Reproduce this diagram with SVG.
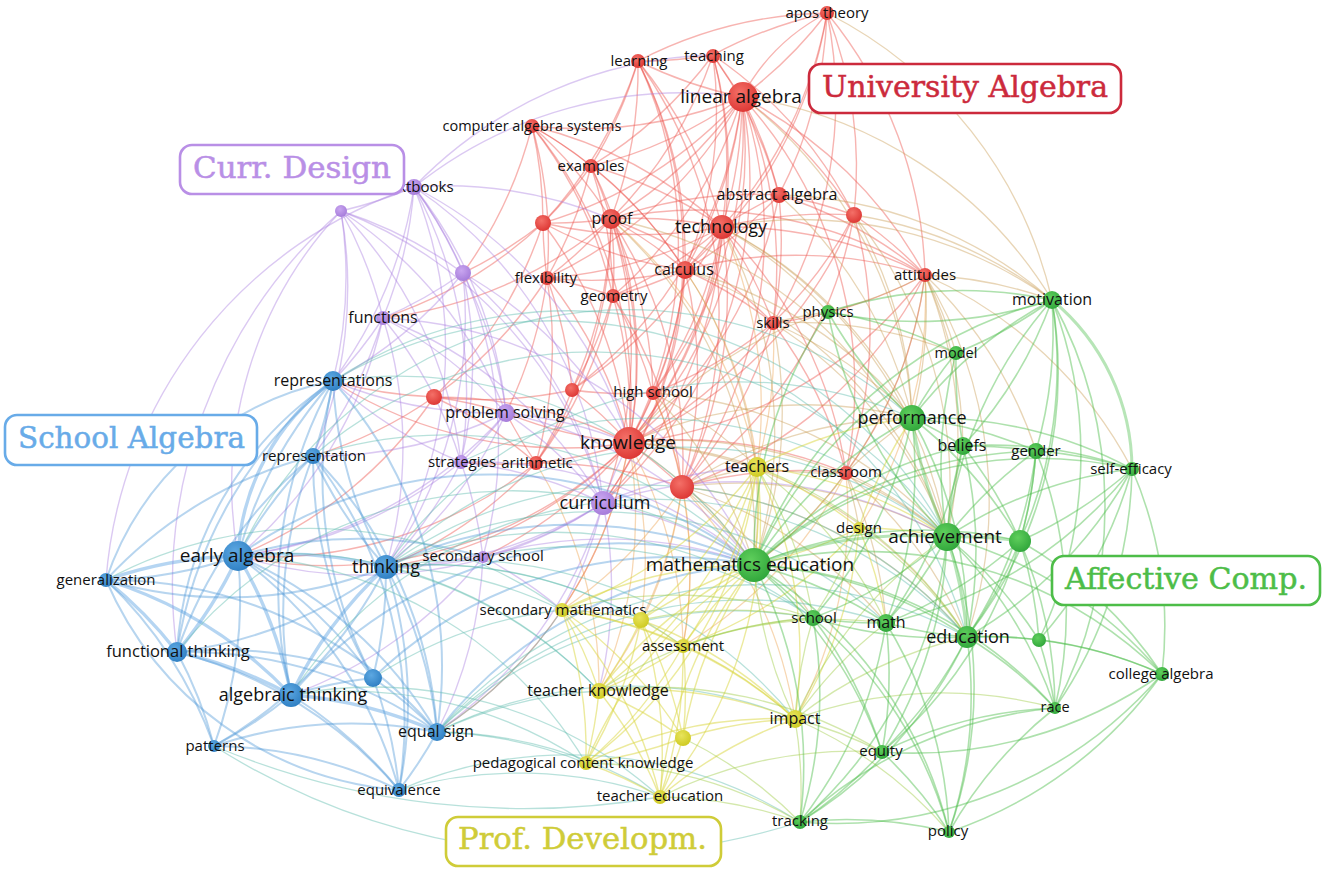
<svg xmlns="http://www.w3.org/2000/svg" width="1325" height="880" viewBox="0 0 1325 880">
<style>
#connectors path{fill:none;stroke-linecap:round}
.er path{stroke:#ec554e;stroke-opacity:.44;stroke-width:1.4}
.eo path{stroke:#c99a52;stroke-opacity:.42;stroke-width:1.3}
.ea path{stroke:#eca04a;stroke-opacity:.42;stroke-width:1.3}
.ep path{stroke:#a97ee0;stroke-opacity:.42;stroke-width:1.4}
.eb path{stroke:#4a96d8;stroke-opacity:.4;stroke-width:2}
.eb path.t{stroke:#5aa2e2;stroke-opacity:.45;stroke-width:3.4}
.ec path{stroke:#62bdb0;stroke-opacity:.45;stroke-width:1.3}
.ey path{stroke:#d9d63c;stroke-opacity:.5;stroke-width:1.4}
.eq path{stroke:#a6cf52;stroke-opacity:.48;stroke-width:1.3}
.eg path{stroke:#4cbd4a;stroke-opacity:.45;stroke-width:1.6}
.eg path.t{stroke-width:3;stroke-opacity:.4}
.nr{fill:url(#gr)}.np{fill:url(#gp)}.nb{fill:url(#gb)}.ny{fill:url(#gy)}.ng{fill:url(#gg)}
.lab{font-family:"Open Sans","DejaVu Sans",sans-serif;fill:#111;text-anchor:middle}
.box{fill:#fff;stroke-width:2.6}
.bt{font-family:"DejaVu Serif","Liberation Serif",serif;font-size:29px;stroke-width:.5}
</style>
<defs>
<radialGradient id="gr" cx="40%" cy="35%" r="70%"><stop offset="0" stop-color="#f47068"/><stop offset="1" stop-color="#dc3532"/></radialGradient>
<radialGradient id="gp" cx="40%" cy="35%" r="70%"><stop offset="0" stop-color="#c9a6f0"/><stop offset="1" stop-color="#a47ad9"/></radialGradient>
<radialGradient id="gb" cx="40%" cy="35%" r="70%"><stop offset="0" stop-color="#5da8e2"/><stop offset="1" stop-color="#2d7ec2"/></radialGradient>
<radialGradient id="gy" cx="40%" cy="35%" r="70%"><stop offset="0" stop-color="#e8e45c"/><stop offset="1" stop-color="#cdc920"/></radialGradient>
<radialGradient id="gg" cx="40%" cy="35%" r="70%"><stop offset="0" stop-color="#5fcf5c"/><stop offset="1" stop-color="#2fa53a"/></radialGradient>
</defs>
<rect width="1325" height="880" fill="#fff"/>
<g id="connectors">
<g class="er">
<path d="M742 97A430 430 0 0 1 713 55"/><path d="M742 97A430 430 0 0 1 638 61"/><path d="M827 13A430 430 0 0 1 742 97"/><path d="M827 13A200 200 0 0 0 742 97"/><path d="M742 97A430 430 0 0 1 722 227"/><path d="M742 97A430 430 0 0 1 611 219"/><path d="M742 97A430 430 0 0 1 779 195"/><path d="M742 97A430 430 0 0 1 685 270"/><path d="M742 97A430 430 0 0 1 591 166"/><path d="M742 97A430 430 0 0 1 532 126"/><path d="M742 97A430 430 0 0 1 629 443"/><path d="M742 97A430 430 0 0 1 854 215"/><path d="M742 97A430 430 0 0 1 925 275"/><path d="M742 97A430 430 0 0 1 773 323"/><path d="M742 97A430 430 0 0 1 653 393"/><path d="M742 97A430 430 0 0 1 682 487"/><path d="M742 97A430 430 0 0 1 547 278"/><path d="M742 97A430 430 0 0 1 613 296"/><path d="M742 97A430 430 0 0 1 543 223"/><path d="M742 97A430 430 0 0 1 846 473"/><path d="M742 97A430 430 0 0 1 603 503"/><path d="M742 97A430 430 0 0 1 572 390"/>
<path d="M713 55A430 430 0 0 1 638 61"/><path d="M713 55A430 430 0 0 1 827 13"/><path d="M713 55A430 430 0 0 1 722 227"/><path d="M713 55A430 430 0 0 1 611 219"/><path d="M713 55A430 430 0 0 1 629 443"/><path d="M713 55A430 430 0 0 1 685 270"/><path d="M713 55A430 430 0 0 1 854 215"/><path d="M713 55A430 430 0 0 1 591 166"/><path d="M713 55A430 430 0 0 1 779 195"/>
<path d="M638 61A430 430 0 0 1 611 219"/><path d="M638 61A430 430 0 0 1 629 443"/><path d="M638 61A430 430 0 0 1 722 227"/><path d="M638 61A430 430 0 0 1 591 166"/><path d="M638 61A430 430 0 0 1 685 270"/><path d="M638 61A430 430 0 0 1 682 487"/><path d="M638 61A430 430 0 0 1 827 13"/><path d="M638 61A430 430 0 0 1 543 223"/><path d="M638 61A430 430 0 0 1 603 503"/>
<path d="M827 13A430 430 0 0 1 779 195"/><path d="M827 13A430 430 0 0 1 854 215"/><path d="M827 13A430 430 0 0 1 722 227"/><path d="M827 13A430 430 0 0 1 925 275"/><path d="M827 13A430 430 0 0 1 773 323"/><path d="M827 13A430 430 0 0 1 685 270"/>
<path d="M532 126A430 430 0 0 1 722 227"/><path d="M532 126A430 430 0 0 1 685 270"/><path d="M532 126A430 430 0 0 1 591 166"/><path d="M532 126A430 430 0 0 1 543 223"/><path d="M532 126A430 430 0 0 1 613 296"/><path d="M532 126A430 430 0 0 1 629 443"/><path d="M532 126A430 430 0 0 1 611 219"/><path d="M532 126A430 430 0 0 1 547 278"/>
<path d="M591 166A430 430 0 0 1 611 219"/><path d="M591 166A430 430 0 0 1 722 227"/><path d="M591 166A430 430 0 0 1 543 223"/><path d="M591 166A430 430 0 0 1 685 270"/><path d="M591 166A430 430 0 0 1 629 443"/><path d="M591 166A430 430 0 0 1 547 278"/><path d="M591 166A430 430 0 0 1 613 296"/>
<path d="M611 219A430 430 0 0 1 722 227"/><path d="M611 219A430 430 0 0 1 543 223"/><path d="M611 219A430 430 0 0 1 685 270"/><path d="M611 219A430 430 0 0 1 613 296"/><path d="M611 219A430 430 0 0 1 547 278"/><path d="M611 219A430 430 0 0 1 629 443"/><path d="M611 219A430 430 0 0 1 653 393"/><path d="M611 219A430 430 0 0 1 682 487"/><path d="M611 219A430 430 0 0 1 773 323"/><path d="M611 219A430 430 0 0 1 779 195"/><path d="M611 219A430 430 0 0 1 925 275"/><path d="M611 219A430 430 0 0 1 572 390"/><path d="M611 219A430 430 0 0 1 536 463"/><path d="M611 219A430 430 0 0 1 603 503"/>
<path d="M722 227A430 430 0 0 1 685 270"/><path d="M722 227A430 430 0 0 1 779 195"/><path d="M722 227A430 430 0 0 1 629 443"/><path d="M722 227A430 430 0 0 1 682 487"/><path d="M722 227A430 430 0 0 1 925 275"/><path d="M722 227A430 430 0 0 1 773 323"/><path d="M722 227A430 430 0 0 1 653 393"/><path d="M722 227A430 430 0 0 1 854 215"/><path d="M722 227A430 430 0 0 1 846 473"/><path d="M722 227A430 430 0 0 1 543 223"/><path d="M722 227A430 430 0 0 1 547 278"/><path d="M722 227A430 430 0 0 1 613 296"/><path d="M722 227A430 430 0 0 1 603 503"/><path d="M722 227A430 430 0 0 1 572 390"/>
<path d="M779 195A430 430 0 0 1 854 215"/><path d="M779 195A430 430 0 0 1 685 270"/><path d="M779 195A430 430 0 0 1 925 275"/><path d="M779 195A430 430 0 0 1 629 443"/><path d="M779 195A430 430 0 0 1 773 323"/>
<path d="M854 215A430 430 0 0 1 925 275"/><path d="M854 215A430 430 0 0 1 773 323"/><path d="M854 215A430 430 0 0 1 629 443"/><path d="M854 215A430 430 0 0 1 682 487"/><path d="M854 215A430 430 0 0 1 846 473"/>
<path d="M685 270A430 430 0 0 1 629 443"/><path d="M685 270A430 430 0 0 1 613 296"/><path d="M685 270A430 430 0 0 1 773 323"/><path d="M685 270A430 430 0 0 1 682 487"/><path d="M685 270A430 430 0 0 1 925 275"/><path d="M685 270A430 430 0 0 1 653 393"/><path d="M685 270A430 430 0 0 1 543 223"/><path d="M685 270A430 430 0 0 1 547 278"/><path d="M685 270A430 430 0 0 1 603 503"/>
<path d="M547 278A430 430 0 0 1 629 443"/><path d="M547 278A430 430 0 0 1 543 223"/><path d="M547 278A430 430 0 0 1 613 296"/><path d="M547 278A430 430 0 0 1 536 463"/><path d="M547 278A430 430 0 0 1 572 390"/><path d="M547 278A430 430 0 0 1 434 397"/>
<path d="M613 296A430 430 0 0 1 629 443"/><path d="M613 296A430 430 0 0 1 653 393"/><path d="M613 296A430 430 0 0 1 682 487"/><path d="M613 296A430 430 0 0 1 536 463"/><path d="M613 296A430 430 0 0 1 572 390"/>
<path d="M925 275A430 430 0 0 1 629 443"/><path d="M925 275A430 430 0 0 1 846 473"/><path d="M925 275A430 430 0 0 1 773 323"/><path d="M925 275A430 430 0 0 1 682 487"/>
<path d="M773 323A430 430 0 0 1 629 443"/><path d="M773 323A430 430 0 0 1 653 393"/><path d="M773 323A430 430 0 0 1 682 487"/><path d="M773 323A430 430 0 0 1 846 473"/>
<path d="M653 393A430 430 0 0 1 629 443"/><path d="M653 393A430 430 0 0 1 572 390"/><path d="M653 393A430 430 0 0 1 682 487"/>
<path d="M572 390A430 430 0 0 1 629 443"/><path d="M572 390A430 430 0 0 1 434 397"/><path d="M572 390A430 430 0 0 1 536 463"/>
<path d="M434 397A430 430 0 0 1 629 443"/><path d="M434 397A430 430 0 0 1 536 463"/>
<path d="M629 443A430 430 0 0 1 536 463"/><path d="M629 443A430 430 0 0 1 682 487"/><path d="M629 443A430 430 0 0 1 846 473"/><path d="M536 463A430 430 0 0 1 682 487"/><path d="M682 487A430 430 0 0 1 846 473"/>
<path d="M543 223A430 430 0 0 1 629 443"/><path d="M543 223A430 430 0 0 1 434 397"/>
<path d="M434 397A430 430 0 0 1 333 381"/><path d="M434 397A430 430 0 0 1 506 413"/><path d="M434 397A430 430 0 0 1 313 456"/><path d="M434 397A430 430 0 0 1 238 556"/>
<path d="M629 443A430 430 0 0 1 386 567"/><path d="M629 443A430 430 0 0 1 238 556"/><path d="M629 443A430 430 0 0 1 506 413"/><path d="M629 443A430 430 0 0 1 333 381"/><path d="M629 443A430 430 0 0 1 483 557"/><path d="M629 443A430 430 0 0 1 437 732"/>
<path d="M536 463A430 430 0 0 1 461 462"/><path d="M536 463A430 430 0 0 1 238 556"/><path d="M536 463A430 430 0 0 1 386 567"/><path d="M536 463A430 430 0 0 1 506 413"/>
<path d="M611 219A430 430 0 0 1 383 318"/><path d="M543 223A430 430 0 0 1 463 273"/><path d="M543 223A430 430 0 0 1 383 318"/><path d="M547 278A430 430 0 0 1 506 413"/><path d="M532 126A430 430 0 0 1 463 273"/>
</g>
<g class="ea">
<path d="M629 443A430 430 0 0 1 562 610"/><path d="M629 443A430 430 0 0 1 599 691"/><path d="M629 443A430 430 0 0 1 683 646"/><path d="M629 443A430 430 0 0 1 641 620"/><path d="M682 487A430 430 0 0 1 683 646"/><path d="M682 487A430 430 0 0 1 599 691"/><path d="M682 487A430 430 0 0 1 641 620"/><path d="M682 487A430 430 0 0 1 562 610"/><path d="M682 487A430 430 0 0 1 795 719"/><path d="M653 393A430 430 0 0 1 683 646"/><path d="M846 473A430 430 0 0 1 795 719"/><path d="M846 473A430 430 0 0 1 683 646"/><path d="M685 270A430 430 0 0 1 757 467"/><path d="M722 227A430 430 0 0 1 757 467"/><path d="M611 219A430 430 0 0 1 757 467"/><path d="M536 463A430 430 0 0 1 599 691"/><path d="M773 323A430 430 0 0 1 757 467"/><path d="M925 275A430 430 0 0 1 859 528"/>
</g>
<g class="eo">
<path d="M722 227A430 430 0 0 1 754 565"/><path d="M722 227A430 430 0 0 1 912 418"/><path d="M722 227A430 430 0 0 1 947 537"/><path d="M722 227A430 430 0 0 1 1052 300"/><path d="M722 227A430 430 0 0 1 828 312"/>
<path d="M925 275A430 430 0 0 1 754 565"/><path d="M925 275A430 430 0 0 1 912 418"/><path d="M925 275A430 430 0 0 1 947 537"/><path d="M925 275A430 430 0 0 1 1052 300"/><path d="M925 275A430 430 0 0 1 956 353"/><path d="M925 275A430 430 0 0 1 963 446"/><path d="M925 275A430 430 0 0 1 1132 469"/><path d="M925 275A430 430 0 0 1 967 637"/><path d="M925 275A430 430 0 0 1 828 312"/><path d="M925 275A430 430 0 0 1 1036 451"/>
<path d="M629 443A430 430 0 0 1 754 565"/><path d="M629 443A430 430 0 0 1 757 467"/><path d="M629 443A430 430 0 0 1 912 418"/><path d="M629 443A430 430 0 0 1 947 537"/><path d="M629 443A430 430 0 0 1 828 312"/><path d="M629 443A430 430 0 0 1 967 637"/>
<path d="M682 487A430 430 0 0 1 754 565"/><path d="M682 487A430 430 0 0 1 757 467"/><path d="M682 487A430 430 0 0 1 947 537"/><path d="M682 487A430 430 0 0 1 912 418"/><path d="M682 487A430 430 0 0 1 967 637"/><path d="M682 487A430 430 0 0 1 813 618"/><path d="M682 487A430 430 0 0 1 886 623"/>
<path d="M846 473A430 430 0 0 1 754 565"/><path d="M846 473A430 430 0 0 1 947 537"/><path d="M846 473A430 430 0 0 1 757 467"/><path d="M846 473A430 430 0 0 1 912 418"/><path d="M846 473A430 430 0 0 1 859 528"/><path d="M846 473A430 430 0 0 1 886 623"/><path d="M846 473A430 430 0 0 1 967 637"/>
<path d="M773 323A430 430 0 0 1 912 418"/><path d="M773 323A430 430 0 0 1 947 537"/><path d="M773 323A430 430 0 0 1 754 565"/><path d="M773 323A430 430 0 0 1 828 312"/><path d="M773 323A430 430 0 0 1 956 353"/>
<path d="M685 270A430 430 0 0 1 754 565"/><path d="M685 270A430 430 0 0 1 947 537"/><path d="M685 270A430 430 0 0 1 912 418"/>
<path d="M742 97A430 430 0 0 1 1052 300"/><path d="M742 97A430 430 0 0 1 912 418"/><path d="M827 13A430 430 0 0 1 1052 300"/>
<path d="M854 215A430 430 0 0 1 912 418"/><path d="M854 215A430 430 0 0 1 947 537"/><path d="M854 215A430 430 0 0 1 1052 300"/>
<path d="M653 393A430 430 0 0 1 754 565"/><path d="M653 393A430 430 0 0 1 947 537"/><path d="M653 393A430 430 0 0 1 757 467"/>
<path d="M779 195A430 430 0 0 1 1052 300"/><path d="M779 195A430 430 0 0 1 912 418"/><path d="M611 219A430 430 0 0 1 754 565"/><path d="M611 219A430 430 0 0 1 947 537"/>
</g>
<g class="ep">
<path d="M414 187A430 430 0 0 1 341 211"/><path d="M414 187A430 430 0 0 1 463 273"/><path d="M414 187A430 430 0 0 1 383 318"/><path d="M414 187A430 430 0 0 1 506 413"/><path d="M414 187A430 430 0 0 1 603 503"/><path d="M414 187A430 430 0 0 1 333 381"/><path d="M414 187A430 430 0 0 1 461 462"/><path d="M414 187A430 430 0 0 1 483 557"/><path d="M414 187A430 430 0 0 1 629 443"/><path d="M414 187A430 430 0 0 1 386 567"/><path d="M414 187A430 430 0 0 1 611 219"/><path d="M414 187A430 430 0 0 1 713 55"/><path d="M414 187A430 430 0 0 1 742 97"/>
<path d="M341 211A430 430 0 0 1 463 273"/><path d="M341 211A430 430 0 0 1 383 318"/><path d="M341 211A430 430 0 0 1 333 381"/><path d="M341 211A430 430 0 0 1 506 413"/><path d="M341 211A430 430 0 0 1 461 462"/><path d="M341 211A430 430 0 0 1 313 456"/><path d="M341 211A430 430 0 0 1 603 503"/>
<path d="M463 273A430 430 0 0 1 383 318"/><path d="M463 273A430 430 0 0 1 506 413"/><path d="M463 273A430 430 0 0 1 461 462"/><path d="M463 273A430 430 0 0 1 603 503"/><path d="M463 273A430 430 0 0 1 629 443"/><path d="M463 273A430 430 0 0 1 333 381"/><path d="M463 273A430 430 0 0 1 386 567"/>
<path d="M383 318A430 430 0 0 1 333 381"/><path d="M383 318A430 430 0 0 1 506 413"/><path d="M383 318A430 430 0 0 1 461 462"/><path d="M383 318A430 430 0 0 1 238 556"/><path d="M383 318A430 430 0 0 1 386 567"/><path d="M383 318A430 430 0 0 1 603 503"/><path d="M383 318A430 430 0 0 1 313 456"/><path d="M383 318A430 430 0 0 1 754 565"/>
<path d="M506 413A430 430 0 0 1 461 462"/><path d="M506 413A430 430 0 0 1 603 503"/><path d="M506 413A430 430 0 0 1 629 443"/><path d="M506 413A430 430 0 0 1 386 567"/><path d="M506 413A430 430 0 0 1 333 381"/><path d="M506 413A430 430 0 0 1 238 556"/><path d="M506 413A430 430 0 0 1 754 565"/><path d="M506 413A430 430 0 0 1 313 456"/>
<path d="M461 462A430 430 0 0 1 603 503"/><path d="M461 462A430 430 0 0 1 386 567"/><path d="M461 462A430 430 0 0 1 483 557"/><path d="M461 462A430 430 0 0 1 238 556"/><path d="M461 462A430 430 0 0 1 754 565"/><path d="M461 462A430 430 0 0 1 333 381"/>
<path d="M603 503A430 430 0 0 1 629 443"/><path d="M603 503A430 430 0 0 1 754 565"/><path d="M603 503A430 430 0 0 1 483 557"/><path d="M603 503A430 430 0 0 1 386 567"/><path d="M603 503A430 430 0 0 1 757 467"/><path d="M603 503A430 430 0 0 1 238 556"/><path d="M603 503A430 430 0 0 1 947 537"/><path d="M603 503A430 430 0 0 1 562 610"/><path d="M603 503A430 430 0 0 1 599 691"/><path d="M603 503A430 430 0 0 1 437 732"/>
<path d="M483 557A430 430 0 0 1 386 567"/><path d="M483 557A430 430 0 0 1 754 565"/><path d="M483 557A430 430 0 0 1 437 732"/><path d="M483 557A430 430 0 0 1 562 610"/><path d="M483 557A430 430 0 0 1 291 695"/>
<path d="M341 211A400 400 0 0 0 238 556"/><path d="M414 187A450 450 0 0 0 106 580"/><path d="M341 211A500 500 0 0 0 177 652"/>
</g>
<g class="eb">
<path class="t" d="M238 556A430 430 0 0 1 177 652"/><path class="t" d="M238 556A430 430 0 0 1 291 695"/><path class="t" d="M238 556A430 430 0 0 1 386 567"/><path class="t" d="M106 580A430 430 0 0 1 238 556"/><path class="t" d="M291 695A430 430 0 0 1 386 567"/><path class="t" d="M177 652A430 430 0 0 1 291 695"/><path class="t" d="M106 580A430 430 0 0 1 177 652"/><path class="t" d="M238 556A230 230 0 0 1 333 381"/><path class="t" d="M291 695A430 430 0 0 1 437 732"/><path class="t" d="M106 580A430 430 0 0 1 291 695"/>
<path d="M238 556A430 430 0 0 1 106 580"/><path d="M238 556A430 430 0 0 1 333 381"/><path d="M238 556A430 430 0 0 1 313 456"/><path d="M238 556A430 430 0 0 1 437 732"/><path d="M238 556A430 430 0 0 1 214 746"/><path d="M238 556A430 430 0 0 1 373 678"/><path d="M238 556A430 430 0 0 1 399 790"/><path d="M238 556A430 430 0 0 1 754 565"/><path d="M238 556A430 430 0 0 1 483 557"/>
<path d="M386 567A430 430 0 0 1 333 381"/><path d="M386 567A430 430 0 0 1 313 456"/><path d="M386 567A430 430 0 0 1 373 678"/><path d="M386 567A430 430 0 0 1 437 732"/><path d="M386 567A430 430 0 0 1 177 652"/><path d="M386 567A430 430 0 0 1 106 580"/><path d="M386 567A430 430 0 0 1 399 790"/><path d="M386 567A430 430 0 0 1 754 565"/><path d="M386 567A430 430 0 0 1 214 746"/>
<path d="M106 580A430 430 0 0 1 214 746"/><path d="M106 580A300 300 0 0 1 333 381"/><path d="M106 580A430 430 0 0 1 313 456"/><path d="M106 580A430 430 0 0 1 437 732"/><path d="M106 580A350 350 0 0 0 399 790"/>
<path d="M177 652A430 430 0 0 1 214 746"/><path d="M177 652A430 430 0 0 1 437 732"/><path d="M177 652A430 430 0 0 1 373 678"/><path d="M177 652A430 430 0 0 1 313 456"/><path d="M177 652A430 430 0 0 1 333 381"/><path d="M177 652A430 430 0 0 1 399 790"/><path d="M177 652A350 350 0 0 1 333 381"/>
<path d="M291 695A430 430 0 0 1 214 746"/><path d="M291 695A430 430 0 0 1 373 678"/><path d="M291 695A430 430 0 0 1 399 790"/><path d="M291 695A430 430 0 0 1 754 565"/><path d="M291 695A430 430 0 0 1 333 381"/><path d="M291 695A430 430 0 0 1 313 456"/>
<path d="M373 678A430 430 0 0 1 437 732"/><path d="M373 678A430 430 0 0 1 399 790"/><path d="M373 678A430 430 0 0 1 313 456"/><path d="M373 678A430 430 0 0 1 333 381"/><path d="M373 678A430 430 0 0 1 754 565"/>
<path d="M437 732A430 430 0 0 1 399 790"/><path d="M437 732A430 430 0 0 1 754 565"/>
<path d="M333 381A430 430 0 0 1 313 456"/><path d="M333 381A430 430 0 0 1 437 732"/><path d="M313 456A430 430 0 0 1 437 732"/><path d="M313 456A430 430 0 0 1 399 790"/>
<path d="M214 746A430 430 0 0 1 399 790"/><path d="M214 746A430 430 0 0 1 437 732"/>
</g>
<g class="ec">
<path d="M386 567A430 430 0 0 1 683 646"/><path d="M386 567A430 430 0 0 1 641 620"/><path d="M386 567A430 430 0 0 1 599 691"/><path d="M386 567A430 430 0 0 1 795 719"/><path d="M386 567A430 430 0 0 1 947 537"/><path d="M386 567A430 430 0 0 1 562 610"/><path d="M386 567A430 430 0 0 1 813 618"/><path d="M386 567A430 430 0 0 1 967 637"/><path d="M386 567A430 430 0 0 1 886 623"/><path d="M386 567A430 430 0 0 1 912 418"/>
<path d="M238 556A430 430 0 0 1 599 691"/><path d="M238 556A430 430 0 0 1 586 763"/><path d="M238 556A430 430 0 0 1 912 418"/><path d="M291 695A430 430 0 0 1 586 763"/><path d="M291 695A430 430 0 0 1 660 797"/><path d="M291 695A430 430 0 0 1 967 637"/>
<path d="M437 732A430 430 0 0 1 660 797"/><path d="M437 732A430 430 0 0 1 795 719"/><path d="M437 732A430 430 0 0 1 586 763"/><path d="M437 732A430 430 0 0 1 599 691"/><path d="M562 610A430 430 0 0 1 437 732"/><path d="M437 732A430 430 0 0 1 967 637"/><path d="M437 732A430 430 0 0 1 813 618"/><path d="M437 732A430 430 0 0 1 886 623"/>
<path d="M399 790A430 430 0 0 1 660 797"/><path d="M399 790A430 430 0 0 1 800 822"/><path d="M333 381A430 430 0 0 1 754 565"/><path d="M333 381A430 430 0 0 1 947 537"/><path d="M333 381A430 430 0 0 1 967 637"/><path d="M313 456A430 430 0 0 1 754 565"/><path d="M313 456A430 430 0 0 1 947 537"/><path d="M373 678A430 430 0 0 1 562 610"/><path d="M177 652A430 430 0 0 1 754 565"/><path d="M106 580A430 430 0 0 1 562 610"/>
<path d="M483 557A430 430 0 0 1 813 618"/><path d="M461 462A430 430 0 0 1 947 537"/>
<path d="M214 746A700 700 0 0 0 800 822"/><path d="M214 746A800 800 0 0 0 660 797"/>
</g>
<g class="ey">
<path d="M757 467A430 430 0 0 1 754 565"/><path d="M757 467A430 430 0 0 1 859 528"/><path d="M757 467A430 430 0 0 1 599 691"/><path d="M757 467A430 430 0 0 1 683 646"/><path d="M757 467A430 430 0 0 1 562 610"/><path d="M757 467A430 430 0 0 1 795 719"/><path d="M757 467A430 430 0 0 1 947 537"/><path d="M757 467A430 430 0 0 1 912 418"/><path d="M757 467A430 430 0 0 1 641 620"/><path d="M757 467A430 430 0 0 1 660 797"/><path d="M757 467A430 430 0 0 1 586 763"/>
<path d="M859 528A430 430 0 0 1 947 537"/><path d="M859 528A430 430 0 0 1 754 565"/><path d="M859 528A430 430 0 0 1 795 719"/><path d="M859 528A430 430 0 0 1 912 418"/><path d="M859 528A430 430 0 0 1 886 623"/><path d="M859 528A430 430 0 0 1 683 646"/>
<path d="M562 610A430 430 0 0 1 641 620"/><path d="M562 610A430 430 0 0 1 683 646"/><path d="M562 610A430 430 0 0 1 599 691"/><path d="M562 610A430 430 0 0 1 586 763"/><path d="M562 610A430 430 0 0 1 754 565"/><path d="M562 610A430 430 0 0 1 660 797"/><path d="M562 610A430 430 0 0 1 683 738"/><path d="M562 610A430 430 0 0 1 795 719"/>
<path d="M641 620A430 430 0 0 1 683 646"/><path d="M641 620A430 430 0 0 1 599 691"/><path d="M641 620A430 430 0 0 1 754 565"/><path d="M641 620A430 430 0 0 1 586 763"/><path d="M641 620A430 430 0 0 1 795 719"/><path d="M641 620A430 430 0 0 1 660 797"/><path d="M641 620A430 430 0 0 1 683 738"/>
<path d="M683 646A430 430 0 0 1 599 691"/><path d="M683 646A430 430 0 0 1 795 719"/><path d="M683 646A430 430 0 0 1 754 565"/><path d="M683 646A430 430 0 0 1 586 763"/><path d="M683 646A430 430 0 0 1 683 738"/><path d="M683 646A430 430 0 0 1 660 797"/>
<path d="M599 691A430 430 0 0 1 586 763"/><path d="M599 691A430 430 0 0 1 660 797"/><path d="M599 691A430 430 0 0 1 683 738"/><path d="M599 691A430 430 0 0 1 754 565"/><path d="M599 691A430 430 0 0 1 795 719"/>
<path d="M683 738A430 430 0 0 1 586 763"/><path d="M683 738A430 430 0 0 1 660 797"/><path d="M683 738A430 430 0 0 1 795 719"/><path d="M683 738A430 430 0 0 1 754 565"/>
<path d="M586 763A430 430 0 0 1 660 797"/><path d="M586 763A430 430 0 0 1 754 565"/><path d="M586 763A430 430 0 0 1 795 719"/>
<path d="M660 797A430 430 0 0 1 795 719"/><path d="M660 797A430 430 0 0 1 754 565"/>
</g>
<g class="eq">
<path d="M795 719A430 430 0 0 1 754 565"/><path d="M795 719A430 430 0 0 1 947 537"/><path d="M795 719A430 430 0 0 1 813 618"/><path d="M795 719A430 430 0 0 1 882 752"/><path d="M795 719A430 430 0 0 1 967 637"/><path d="M795 719A430 430 0 0 1 800 822"/><path d="M795 719A430 430 0 0 1 886 623"/><path d="M795 719A430 430 0 0 1 949 832"/><path d="M795 719A430 430 0 0 1 1055 708"/>
<path d="M757 467A430 430 0 0 1 967 637"/><path d="M757 467A430 430 0 0 1 886 623"/><path d="M757 467A430 430 0 0 1 813 618"/><path d="M859 528A430 430 0 0 1 967 637"/><path d="M859 528A430 430 0 0 1 813 618"/><path d="M683 646A430 430 0 0 1 813 618"/><path d="M683 646A430 430 0 0 1 886 623"/><path d="M599 691A430 430 0 0 1 813 618"/><path d="M599 691A430 430 0 0 1 882 752"/><path d="M562 610A430 430 0 0 1 813 618"/><path d="M641 620A430 430 0 0 1 813 618"/><path d="M660 797A430 430 0 0 1 800 822"/><path d="M586 763A430 430 0 0 1 800 822"/><path d="M660 797A430 430 0 0 1 882 752"/><path d="M683 738A430 430 0 0 1 800 822"/>
</g>
<g class="eg">
<path class="t" d="M754 565A430 430 0 0 1 947 537"/><path class="t" d="M947 537A430 430 0 0 1 912 418"/><path class="t" d="M947 537A430 430 0 0 1 967 637"/><path class="t" d="M947 537A430 430 0 0 1 1020 541"/><path class="t" d="M1052 300A220 220 0 0 1 1132 469"/>
<path d="M754 565A430 430 0 0 1 912 418"/><path d="M754 565A430 430 0 0 1 813 618"/><path d="M754 565A430 430 0 0 1 886 623"/><path d="M754 565A430 430 0 0 1 967 637"/><path d="M754 565A430 430 0 0 1 1052 300"/><path d="M754 565A430 430 0 0 1 963 446"/><path d="M754 565A430 430 0 0 1 828 312"/><path d="M754 565A430 430 0 0 1 882 752"/><path d="M754 565A430 430 0 0 1 800 822"/><path d="M754 565A430 430 0 0 1 1020 541"/><path d="M754 565A430 430 0 0 1 1132 469"/><path d="M754 565A430 430 0 0 1 956 353"/><path d="M754 565A430 430 0 0 1 949 832"/><path d="M754 565A430 430 0 0 1 1036 451"/><path d="M754 565A430 430 0 0 1 1055 708"/><path d="M754 565A430 430 0 0 1 1162 674"/>
<path d="M947 537A430 430 0 0 1 963 446"/><path d="M947 537A430 430 0 0 1 1036 451"/><path d="M947 537A430 430 0 0 1 886 623"/><path d="M947 537A430 430 0 0 1 1052 300"/><path d="M947 537A430 430 0 0 1 1132 469"/><path d="M947 537A430 430 0 0 1 956 353"/><path d="M947 537A430 430 0 0 1 1055 708"/><path d="M947 537A430 430 0 0 1 882 752"/><path d="M947 537A430 430 0 0 1 949 832"/><path d="M947 537A430 430 0 0 1 800 822"/><path d="M947 537A430 430 0 0 1 813 618"/><path d="M947 537A430 430 0 0 1 1162 674"/><path d="M947 537A430 430 0 0 1 1039 640"/><path d="M947 537A430 430 0 0 1 828 312"/>
<path d="M912 418A430 430 0 0 1 963 446"/><path d="M912 418A430 430 0 0 1 1052 300"/><path d="M912 418A430 430 0 0 1 956 353"/><path d="M912 418A430 430 0 0 1 1132 469"/><path d="M912 418A430 430 0 0 1 1036 451"/><path d="M912 418A430 430 0 0 1 828 312"/><path d="M912 418A430 430 0 0 1 967 637"/><path d="M912 418A430 430 0 0 1 886 623"/><path d="M912 418A430 430 0 0 1 1020 541"/><path d="M912 418A430 430 0 0 1 813 618"/>
<path d="M1052 300A430 430 0 0 1 963 446"/><path d="M1052 300A430 430 0 0 1 1036 451"/><path d="M1052 300A430 430 0 0 1 956 353"/><path d="M1052 300A430 430 0 0 1 967 637"/><path d="M1052 300A430 430 0 0 1 828 312"/><path d="M1052 300A430 430 0 0 1 1020 541"/><path d="M1052 300A430 430 0 0 1 1055 708"/><path d="M1052 300A430 430 0 0 1 1039 640"/>
<path d="M963 446A430 430 0 0 1 1036 451"/><path d="M963 446A430 430 0 0 1 1132 469"/><path d="M963 446A430 430 0 0 1 967 637"/><path d="M963 446A430 430 0 0 1 1020 541"/><path d="M963 446A430 430 0 0 1 956 353"/><path d="M963 446A430 430 0 0 1 886 623"/>
<path d="M1036 451A430 430 0 0 1 1132 469"/><path d="M1036 451A430 430 0 0 1 1055 708"/><path d="M1036 451A430 430 0 0 1 967 637"/><path d="M1036 451A430 430 0 0 1 1020 541"/><path d="M1036 451A430 430 0 0 1 882 752"/>
<path d="M1132 469A430 430 0 0 1 1020 541"/><path d="M1132 469A430 430 0 0 1 967 637"/><path d="M1132 469A400 400 0 0 1 1162 674"/><path d="M1132 469A430 430 0 0 1 1055 708"/><path d="M1132 469A430 430 0 0 1 1039 640"/><path d="M1132 469A430 430 0 0 1 886 623"/>
<path d="M1020 541A430 430 0 0 1 967 637"/><path d="M1020 541A430 430 0 0 1 1055 708"/><path d="M1020 541A430 430 0 0 1 1162 674"/><path d="M1020 541A430 430 0 0 1 1039 640"/><path d="M1020 541A430 430 0 0 1 886 623"/>
<path d="M967 637A430 430 0 0 1 886 623"/><path d="M967 637A430 430 0 0 1 813 618"/><path d="M967 637A430 430 0 0 1 1055 708"/><path d="M967 637A430 430 0 0 1 882 752"/><path d="M967 637A430 430 0 0 1 949 832"/><path d="M967 637A430 430 0 0 1 800 822"/><path d="M967 637A430 430 0 0 1 1039 640"/><path d="M967 637A430 430 0 0 1 1162 674"/>
<path d="M886 623A430 430 0 0 1 813 618"/><path d="M886 623A430 430 0 0 1 882 752"/><path d="M886 623A430 430 0 0 1 800 822"/><path d="M886 623A430 430 0 0 1 949 832"/>
<path d="M813 618A430 430 0 0 1 800 822"/><path d="M813 618A430 430 0 0 1 882 752"/><path d="M813 618A430 430 0 0 1 949 832"/>
<path d="M1039 640A430 430 0 0 1 1055 708"/><path d="M1039 640A430 430 0 0 1 1162 674"/>
<path d="M882 752A430 430 0 0 1 800 822"/><path d="M882 752A430 430 0 0 1 949 832"/><path d="M882 752A430 430 0 0 1 1055 708"/><path d="M882 752A430 430 0 0 0 1162 674"/>
<path d="M800 822A430 430 0 0 1 949 832"/><path d="M800 822A430 430 0 0 1 1055 708"/><path d="M800 822A430 430 0 0 0 1162 674"/>
<path d="M949 832A430 430 0 0 0 1162 674"/><path d="M949 832A430 430 0 0 1 1055 708"/>
<path d="M828 312A430 430 0 0 1 956 353"/><path d="M828 312A430 430 0 0 1 1052 300"/>
</g>
</g>
<g id="nodes">
<g id="n-apos-theory"><circle class="nr" cx="827" cy="13" r="7"/><text class="lab" x="827" y="18" font-size="15">apos theory</text></g>
<g id="n-teaching"><circle class="nr" cx="713" cy="56" r="7"/><text class="lab" x="714" y="61" font-size="15">teaching</text></g>
<g id="n-learning"><circle class="nr" cx="638" cy="61" r="7"/><text class="lab" x="639" y="66" font-size="15">learning</text></g>
<g id="n-computer-algebra-systems"><circle class="nr" cx="532" cy="126" r="7"/><text class="lab" x="532" y="131" font-size="14.5">computer algebra systems</text></g>
<g id="n-examples"><circle class="nr" cx="591" cy="166" r="7"/><text class="lab" x="591" y="171" font-size="15">examples</text></g>
<g id="n-red-1"><circle class="nr" cx="854" cy="215" r="8"/></g>
<g id="n-red-2"><circle class="nr" cx="543" cy="223" r="8"/></g>
<g id="n-abstract-algebra"><circle class="nr" cx="779" cy="195" r="8"/><text class="lab" x="777" y="200" font-size="16">abstract algebra</text></g>
<g id="n-proof"><circle class="nr" cx="611" cy="219" r="10"/><text class="lab" x="612" y="224" font-size="16">proof</text></g>
<g id="n-technology"><circle class="nr" cx="722" cy="227" r="12"/><text class="lab" x="721" y="233" font-size="18">technology</text></g>
<g id="n-calculus"><circle class="nr" cx="685" cy="270" r="9"/><text class="lab" x="684" y="275" font-size="16">calculus</text></g>
<g id="n-flexibility"><circle class="nr" cx="547" cy="278" r="7"/><text class="lab" x="546" y="283" font-size="15">flexibility</text></g>
<g id="n-geometry"><circle class="nr" cx="613" cy="296" r="7"/><text class="lab" x="614" y="301" font-size="15">geometry</text></g>
<g id="n-attitudes"><circle class="nr" cx="925" cy="275" r="7"/><text class="lab" x="925" y="280" font-size="15">attitudes</text></g>
<g id="n-skills"><circle class="nr" cx="773" cy="323" r="7"/><text class="lab" x="773" y="328" font-size="15">skills</text></g>
<g id="n-red-3"><circle class="nr" cx="572" cy="390" r="7"/></g>
<g id="n-red-4"><circle class="nr" cx="434" cy="397" r="8"/></g>
<g id="n-high-school"><circle class="nr" cx="653" cy="393" r="7"/><text class="lab" x="653" y="397" font-size="15">high school</text></g>
<g id="n-arithmetic"><circle class="nr" cx="536" cy="463" r="7"/><text class="lab" x="537" y="468" font-size="15">arithmetic</text></g>
<g id="n-classroom"><circle class="nr" cx="846" cy="473" r="7"/><text class="lab" x="846" y="477" font-size="15">classroom</text></g>
<g id="n-red-5"><circle class="nr" cx="682" cy="487" r="12"/></g>
<g id="n-knowledge"><circle class="nr" cx="629" cy="443" r="16"/><text class="lab" x="628" y="449" font-size="19">knowledge</text></g>
<g id="n-linear-algebra"><circle class="nr" cx="743" cy="97" r="15"/><text class="lab" x="741" y="103" font-size="19">linear algebra</text></g>
<g id="n-purple-1"><circle class="np" cx="341" cy="211" r="6"/></g>
<g id="n-purple-2"><circle class="np" cx="463" cy="273" r="8"/></g>
<g id="n-textbooks"><circle class="np" cx="414" cy="187" r="8"/><text class="lab" x="419" y="192" font-size="15">textbooks</text></g>
<g id="n-functions"><circle class="np" cx="383" cy="318" r="7"/><text class="lab" x="383" y="323" font-size="16">functions</text></g>
<g id="n-problem-solving"><circle class="np" cx="506" cy="413" r="9"/><text class="lab" x="505" y="418" font-size="16">problem solving</text></g>
<g id="n-strategies"><circle class="np" cx="461" cy="462" r="7"/><text class="lab" x="462" y="467" font-size="15">strategies</text></g>
<g id="n-curriculum"><circle class="np" cx="603" cy="503" r="12"/><text class="lab" x="605" y="509" font-size="18">curriculum</text></g>
<g id="n-secondary-school"><circle class="np" cx="483" cy="557" r="6"/><text class="lab" x="483" y="561" font-size="15">secondary school</text></g>
<g id="n-representations"><circle class="nb" cx="333" cy="381" r="10"/><text class="lab" x="333" y="386" font-size="16">representations</text></g>
<g id="n-representation"><circle class="nb" cx="313" cy="456" r="8"/><text class="lab" x="314" y="461" font-size="15">representation</text></g>
<g id="n-generalization"><circle class="nb" cx="106" cy="580" r="7"/><text class="lab" x="106" y="585" font-size="15">generalization</text></g>
<g id="n-blue-1"><circle class="nb" cx="373" cy="678" r="9"/></g>
<g id="n-patterns"><circle class="nb" cx="214" cy="746" r="6"/><text class="lab" x="215" y="751" font-size="15">patterns</text></g>
<g id="n-equivalence"><circle class="nb" cx="399" cy="790" r="7"/><text class="lab" x="399" y="795" font-size="15">equivalence</text></g>
<g id="n-equal-sign"><circle class="nb" cx="437" cy="732" r="9"/><text class="lab" x="436" y="737" font-size="16">equal sign</text></g>
<g id="n-functional-thinking"><circle class="nb" cx="177" cy="652" r="10"/><text class="lab" x="178" y="657" font-size="16.5">functional thinking</text></g>
<g id="n-algebraic-thinking"><circle class="nb" cx="291" cy="695" r="12"/><text class="lab" x="293" y="701" font-size="18">algebraic thinking</text></g>
<g id="n-thinking"><circle class="nb" cx="386" cy="567" r="12"/><text class="lab" x="386" y="573" font-size="18">thinking</text></g>
<g id="n-early-algebra"><circle class="nb" cx="238" cy="556" r="15"/><text class="lab" x="237" y="562" font-size="19">early algebra</text></g>
<g id="n-teachers"><circle class="ny" cx="757" cy="467" r="10"/><text class="lab" x="757" y="472" font-size="16">teachers</text></g>
<g id="n-design"><circle class="ny" cx="859" cy="528" r="6"/><text class="lab" x="859" y="533" font-size="15">design</text></g>
<g id="n-secondary-mathematics"><circle class="ny" cx="562" cy="610" r="7"/><text class="lab" x="563" y="615" font-size="15">secondary mathematics</text></g>
<g id="n-yellow-1"><circle class="ny" cx="641" cy="620" r="8"/></g>
<g id="n-assessment"><circle class="ny" cx="683" cy="646" r="7"/><text class="lab" x="683" y="651" font-size="15">assessment</text></g>
<g id="n-teacher-knowledge"><circle class="ny" cx="599" cy="691" r="8"/><text class="lab" x="598" y="696" font-size="16">teacher knowledge</text></g>
<g id="n-yellow-2"><circle class="ny" cx="683" cy="738" r="8"/></g>
<g id="n-pedagogical-content-knowledge"><circle class="ny" cx="586" cy="763" r="7"/><text class="lab" x="583" y="768" font-size="15">pedagogical content knowledge</text></g>
<g id="n-teacher-education"><circle class="ny" cx="660" cy="797" r="7"/><text class="lab" x="660" y="801" font-size="15">teacher education</text></g>
<g id="n-impact"><circle class="ny" cx="795" cy="719" r="9"/><text class="lab" x="795" y="724" font-size="16">impact</text></g>
<g id="n-motivation"><circle class="ng" cx="1052" cy="300" r="9"/><text class="lab" x="1052" y="305" font-size="16">motivation</text></g>
<g id="n-physics"><circle class="ng" cx="828" cy="312" r="7"/><text class="lab" x="828" y="317" font-size="15">physics</text></g>
<g id="n-model"><circle class="ng" cx="956" cy="353" r="7"/><text class="lab" x="956" y="358" font-size="14.5">model</text></g>
<g id="n-beliefs"><circle class="ng" cx="963" cy="446" r="9"/><text class="lab" x="962" y="451" font-size="16">beliefs</text></g>
<g id="n-performance"><circle class="ng" cx="912" cy="418" r="13"/><text class="lab" x="912" y="424" font-size="18">performance</text></g>
<g id="n-gender"><circle class="ng" cx="1036" cy="451" r="8"/><text class="lab" x="1036" y="456" font-size="15">gender</text></g>
<g id="n-self-efficacy"><circle class="ng" cx="1132" cy="469" r="7"/><text class="lab" x="1131" y="474" font-size="15">self-efficacy</text></g>
<g id="n-green-1"><circle class="ng" cx="1020" cy="541" r="11"/></g>
<g id="n-achievement"><circle class="ng" cx="947" cy="537" r="14"/><text class="lab" x="945" y="543" font-size="19">achievement</text></g>
<g id="n-school"><circle class="ng" cx="813" cy="618" r="8"/><text class="lab" x="814" y="623" font-size="15">school</text></g>
<g id="n-math"><circle class="ng" cx="886" cy="623" r="9"/><text class="lab" x="886" y="628" font-size="16">math</text></g>
<g id="n-green-2"><circle class="ng" cx="1039" cy="640" r="7"/></g>
<g id="n-education"><circle class="ng" cx="967" cy="637" r="11"/><text class="lab" x="968" y="643" font-size="18">education</text></g>
<g id="n-college-algebra"><circle class="ng" cx="1162" cy="674" r="7"/><text class="lab" x="1161" y="679" font-size="15">college algebra</text></g>
<g id="n-race"><circle class="ng" cx="1055" cy="708" r="6"/><text class="lab" x="1055" y="712" font-size="14.5">race</text></g>
<g id="n-equity"><circle class="ng" cx="882" cy="752" r="7"/><text class="lab" x="881" y="756" font-size="15">equity</text></g>
<g id="n-tracking"><circle class="ng" cx="800" cy="822" r="7"/><text class="lab" x="800" y="826" font-size="15">tracking</text></g>
<g id="n-policy"><circle class="ng" cx="949" cy="832" r="6"/><text class="lab" x="948" y="836" font-size="15">policy</text></g>
<g id="n-mathematics-education"><circle class="ng" cx="754" cy="565" r="17"/><text class="lab" x="750" y="571" font-size="19">mathematics education</text></g>
</g>
<g id="cluster-labels">
<g id="l-university-algebra"><rect class="box" x="809" y="64" width="312" height="49" rx="12" stroke="#cc2a3c"/><text class="bt" x="822" y="97" textLength="286" lengthAdjust="spacingAndGlyphs" fill="#cc2a3c" stroke="#cc2a3c">University Algebra</text></g>
<g id="l-curr-design"><rect class="box" x="180" y="145" width="224" height="49" rx="12" stroke="#b98fe6"/><text class="bt" x="193" y="178" textLength="198" lengthAdjust="spacingAndGlyphs" fill="#b98fe6" stroke="#b98fe6">Curr. Design</text></g>
<g id="l-school-algebra"><rect class="box" x="5" y="415" width="252" height="50" rx="12" stroke="#68abe8"/><text class="bt" x="18" y="448" textLength="227" lengthAdjust="spacingAndGlyphs" fill="#68abe8" stroke="#68abe8">School Algebra</text></g>
<g id="l-affective-comp"><rect class="box" x="1052" y="556" width="268" height="49" rx="12" stroke="#4dbd48"/><text class="bt" x="1065" y="589" textLength="242" lengthAdjust="spacingAndGlyphs" fill="#4dbd48" stroke="#4dbd48">Affective Comp.</text></g>
<g id="l-prof-developm"><rect class="box" x="446" y="817" width="275" height="49" rx="12" stroke="#cfcc38"/><text class="bt" x="458" y="849" textLength="249" lengthAdjust="spacingAndGlyphs" fill="#cfcc38" stroke="#cfcc38">Prof. Developm.</text></g>
</g>
</svg>
